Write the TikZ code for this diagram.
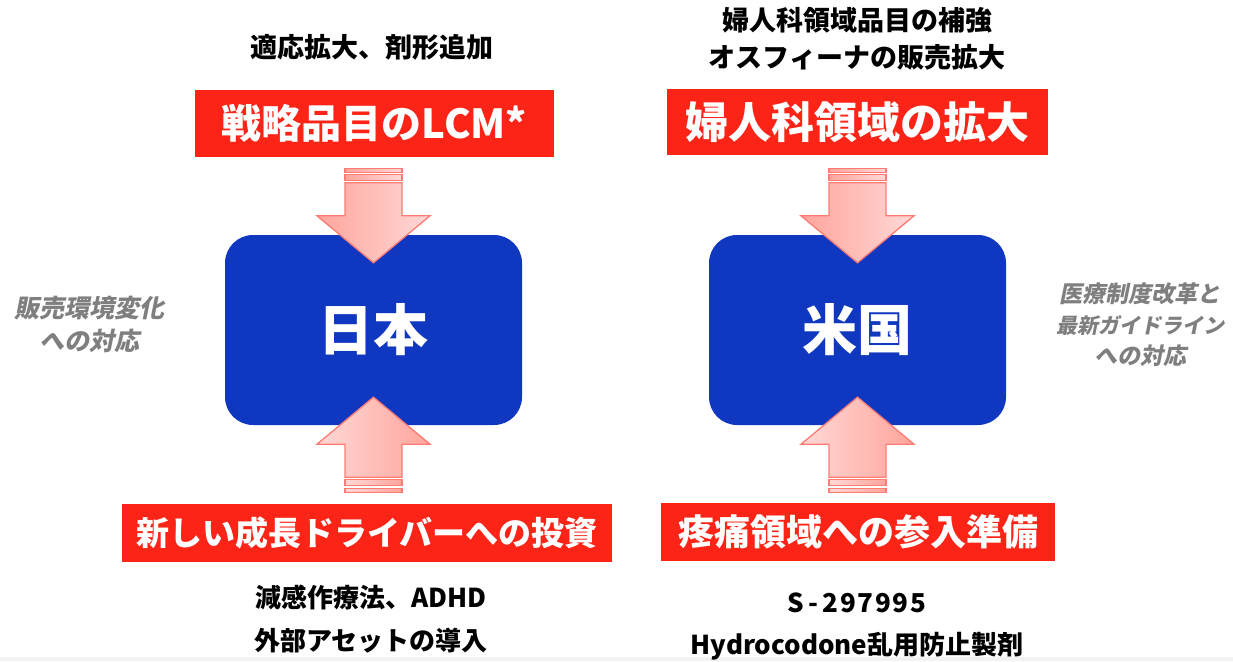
\documentclass[tikz,border=0pt]{standalone}
\usepackage{fontspec}
\newfontfamily\jp{Noto Sans CJK JP}
\newfontfamily\jpsl{Noto Sans CJK JP}[FakeSlant=0.2]
\usetikzlibrary{calc}
\definecolor{boxblue}{HTML}{0F37C0}
\definecolor{lblred}{HTML}{FB2416}
\definecolor{arrdark}{HTML}{FFA59C}
\definecolor{arrlight}{HTML}{FFD8D6}
\definecolor{arredge}{HTML}{FF7B74}
\definecolor{sidegray}{HTML}{7F7F7F}
\newcommand{\mch}[1]{\makebox[17.5pt]{#1}}
\tikzset{
  country/.style={fill=boxblue, rounded corners=28pt, minimum width=297pt, minimum height=190pt,
    text=white, font=\jp\bfseries\fontsize{55}{60}\selectfont, inner sep=0pt},
  redlabel/.style={fill=lblred, text=white, inner sep=0pt},
  toptext/.style={text=black, align=center, inner sep=0pt},
  sidetext/.style={text=sidegray, align=center, inner sep=0pt},
  arrfill/.style={draw=arredge, line width=1.3pt, line join=miter},
  downarr/.pic={
    \path[arrfill, left color=arrdark, right color=arrlight]
      (-28.5,-80) -- (28.5,-80) -- (28.5,-47) -- (56.5,-47) -- (0,0) -- (-56.5,-47) -- (-28.5,-47) -- cycle;
    \path[arrfill, left color=arrdark, right color=arrlight] (-28.5,-94) rectangle (28.5,-90);
    \path[arrfill, left color=arrdark, right color=arrlight] (-28.5,-88) rectangle (28.5,-82);
  },
  uparr/.pic={
    \path[arrfill, left color=arrlight, right color=arrdark]
      (-28.5,80) -- (28.5,80) -- (28.5,47) -- (56.5,47) -- (0,0) -- (-56.5,47) -- (-28.5,47) -- cycle;
    \path[arrfill, left color=arrlight, right color=arrdark] (-28.5,82) rectangle (28.5,88);
    \path[arrfill, left color=arrlight, right color=arrdark] (-28.5,91) rectangle (28.5,95);
  },
}
\begin{document}
\begin{tikzpicture}[x=1pt, y=-1pt]
\useasboundingbox (0,0) rectangle (1233,661);
\fill[gray!10] (0,657) rectangle (1233,661);

% country boxes
\node[country] (jp) at (373.5,330) {日本};
\node[country] (us) at (857.5,330) {米国};

% arrows
\coordinate (jpdown) at ($(jp.north)+(0,28)$);
\coordinate (jpup) at ($(jp.south)+(0,-28)$);
\coordinate (usdown) at ($(us.north)+(0,28)$);
\coordinate (usup) at ($(us.south)+(0,-28)$);
\pic at (jpdown) {downarr};
\pic at (jpup) {uparr};
\pic at (usdown) {downarr};
\pic at (usup) {uparr};

% red labels
\node[redlabel, minimum width=359pt, minimum height=67pt, font=\jp\bfseries\fontsize{40}{44}\selectfont]
  (lcm) at (374.5,123.5) {戦略品目のLCM*};
\node[redlabel, minimum width=381pt, minimum height=66pt, font=\jp\bfseries\fontsize{43}{46}\selectfont]
  (gyn) at (857.5,122) {婦人科領域の拡大};
\node[redlabel, minimum width=490pt, minimum height=58pt, font=\jp\bfseries\fontsize{33}{36}\selectfont]
  (inv) at (367,533) {新しい成長ドライバーへの投資};
\node[redlabel, minimum width=394pt, minimum height=58pt, font=\jp\bfseries\fontsize{36}{40}\selectfont]
  (pain) at (858,532) {疼痛領域への参入準備};

% black texts
\node[toptext, font=\jp\bfseries\fontsize{27}{30}\selectfont] (t1) at (372,47) {適応拡大、剤形追加};
\node[toptext, font=\jp\bfseries\fontsize{27}{37}\selectfont] (t2) at (857,38.5) {婦人科領域品目の補強\\オスフィーナの販売拡大};
\node[toptext, font=\jp\bfseries\fontsize{26}{43}\selectfont] (b1) at (371,619.5) {減感作療法、ADHD\\外部アセットの導入};
\node[toptext, font=\jp\bfseries\fontsize{26}{42}\selectfont] (b2) at (857,626)
  {\mch{S}\mch{-}\mch{2}\mch{9}\mch{7}\mch{9}\mch{9}\mch{5}\\Hydrocodone乱用防止製剤};

% side gray texts
\node[sidetext, font=\jpsl\bfseries\fontsize{25}{33}\selectfont] (s1) at (89,324.5) {販売環境変化\\への対応};
\node[sidetext, font=\jpsl\bfseries\fontsize{21}{31}\selectfont] (s2) at (1140,324.5)
  {{\fontsize{23}{31}\selectfont 医療制度改革と}\\最新ガイドライン\\{\fontsize{23}{31}\selectfont への対応}};
\end{tikzpicture}
\end{document}
